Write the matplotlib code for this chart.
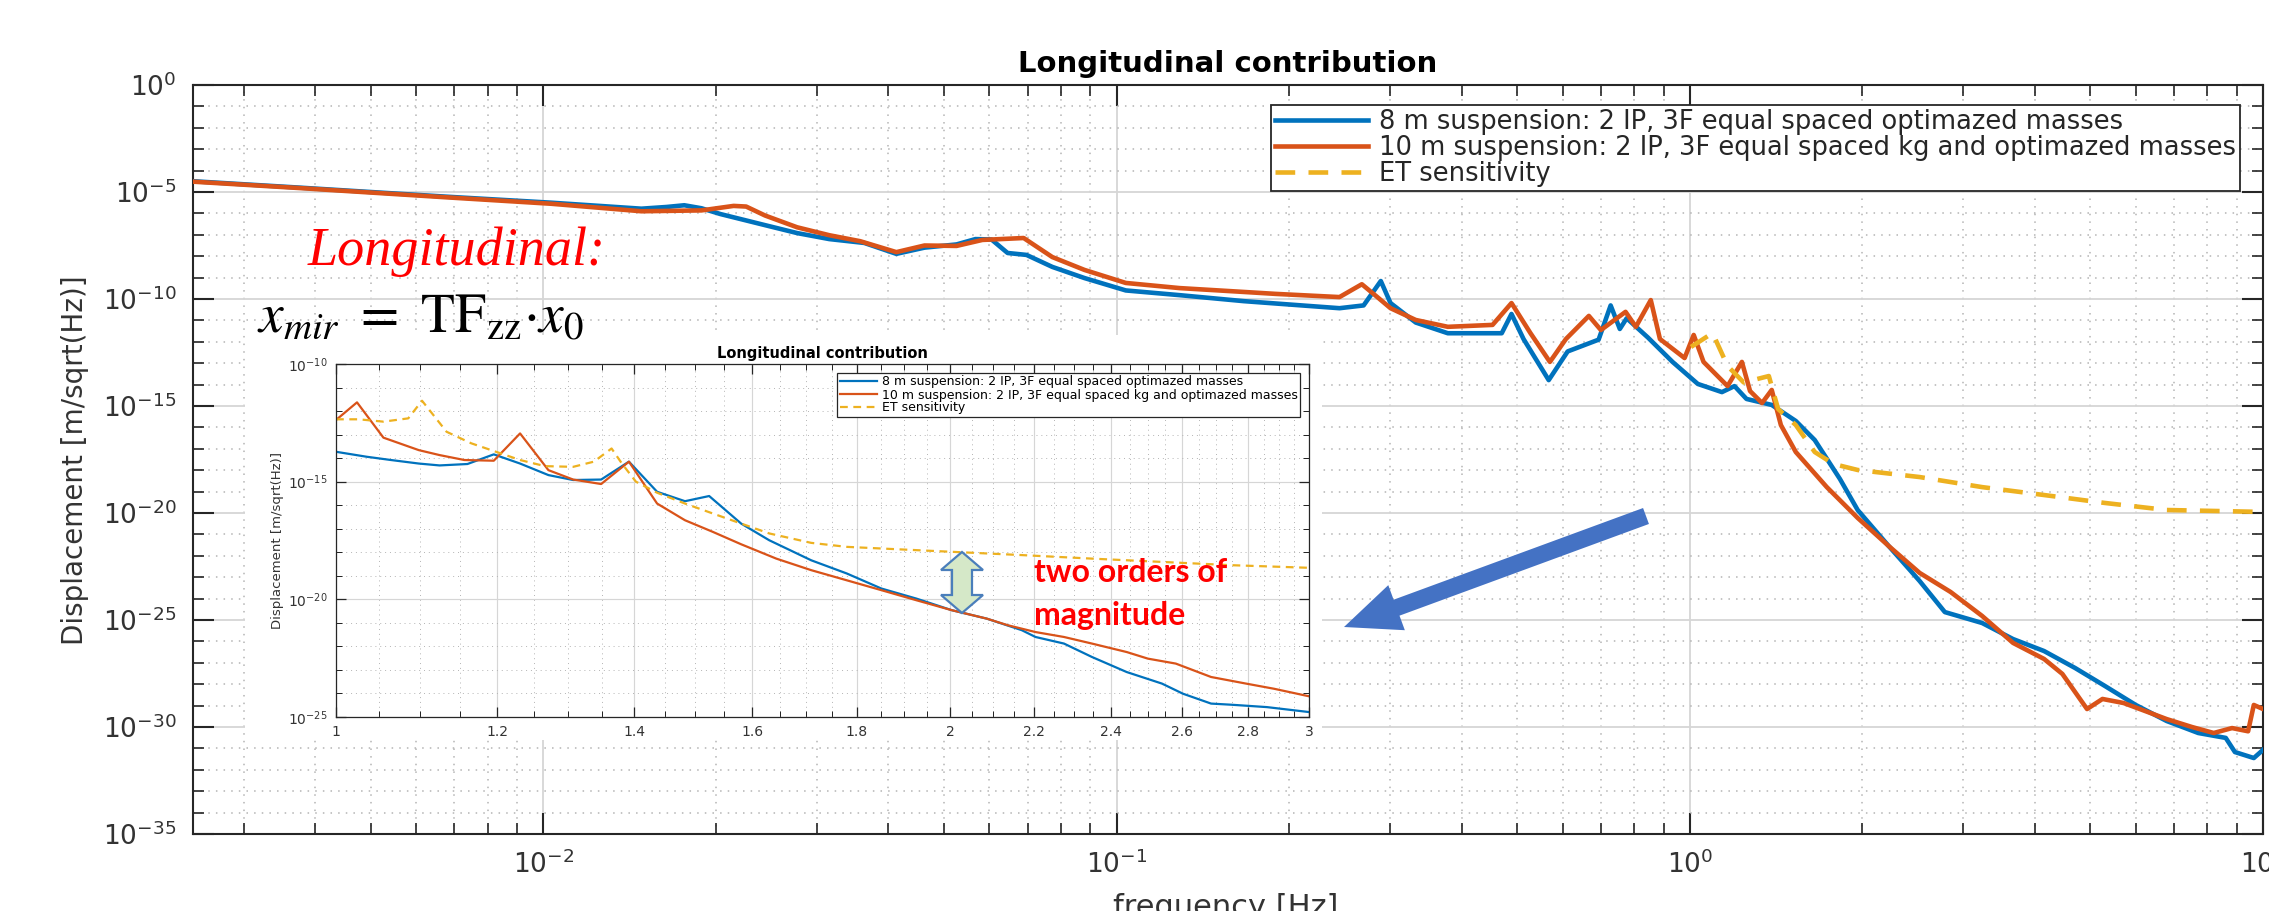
import numpy as np
import matplotlib
matplotlib.use('Agg')
import matplotlib.pyplot as plt
from matplotlib.ticker import FixedLocator, NullFormatter, LogLocator, FixedFormatter
from matplotlib.patches import Polygon, FancyArrow, Rectangle

# ---------------- data (main plot) ----------------
# 8 m suspension (blue): frequency [Hz], log10 displacement
f8 = [0.00246, 0.00378, 0.00679, 0.01033, 0.01483, 0.01641, 0.01762, 0.01888, 0.02037,
      0.02438, 0.02773, 0.03155, 0.03631, 0.04130, 0.04624, 0.05260, 0.05675, 0.06053,
      0.06457, 0.06966, 0.07727, 0.08790, 0.1038, 0.1288, 0.1667, 0.2104, 0.2449, 0.2698,
      0.2891, 0.3006, 0.3327, 0.3784, 0.4699, 0.4887, 0.5129, 0.5675, 0.6124, 0.6934,
      0.7278, 0.7551, 0.7762, 0.8453, 0.9333, 1.033, 1.138, 1.197, 1.256, 1.390, 1.531,
      1.652, 1.828, 1.963, 2.223, 2.518, 2.786, 3.236, 3.664, 4.150, 4.699, 5.297, 5.998,
      6.792, 7.709, 8.610, 8.933, 9.638, 10.0]
d8 = [-4.50, -4.80, -5.22, -5.50, -5.78, -5.70, -5.62, -5.76, -6.03,
      -6.55, -6.92, -7.20, -7.38, -7.89, -7.60, -7.45, -7.20, -7.22,
      -7.85, -7.94, -8.50, -9.02, -9.60, -9.82, -10.10, -10.30, -10.43, -10.30,
      -9.16, -10.19, -11.10, -11.60, -11.60, -10.70, -11.87, -13.79, -12.45, -11.90,
      -10.30, -11.40, -10.90, -11.80, -12.94, -13.97, -14.35, -14.07, -14.67, -14.95, -15.70,
      -16.59, -18.41, -19.86, -21.54, -23.18, -24.63, -25.14, -25.89, -26.45, -27.24, -28.08, -28.97,
      -29.72, -30.28, -30.51, -31.17, -31.45, -31.07]

# 10 m suspension (orange)
f10 = [0.00246, 0.00378, 0.00679, 0.01033, 0.01483, 0.01888, 0.02148, 0.02259, 0.02438,
       0.02773, 0.03155, 0.03573, 0.04130, 0.04624, 0.05260, 0.05834, 0.06887, 0.07727,
       0.08790, 0.1038, 0.1288, 0.1667, 0.1892, 0.2449, 0.2679, 0.2851, 0.3006, 0.3327,
       0.3784, 0.4529, 0.4887, 0.5272, 0.5702, 0.6081, 0.6668, 0.6998, 0.7727, 0.8054,
       0.8551, 0.8872, 0.9795, 1.016, 1.057, 1.164, 1.233, 1.274, 1.337, 1.390, 1.442,
       1.531, 1.734, 1.963, 2.223, 2.518, 2.851, 3.236, 3.664, 4.150, 4.467, 4.932, 5.248,
       5.715, 6.792, 7.516, 8.204, 8.831, 9.419, 9.638, 10.0]
d10 = [-4.52, -4.82, -5.25, -5.55, -5.90, -5.86, -5.65, -5.68, -6.10,
       -6.65, -7.02, -7.30, -7.81, -7.50, -7.52, -7.24, -7.15, -8.04,
       -8.64, -9.25, -9.49, -9.67, -9.76, -9.91, -9.31, -9.91, -10.43, -10.98,
       -11.30, -11.21, -10.19, -11.59, -12.94, -11.87, -10.79, -11.45, -10.60, -11.30,
       -10.05, -11.87, -12.76, -11.68, -12.94, -14.07, -12.94, -14.30, -14.86, -14.25, -15.89,
       -17.15, -18.79, -20.23, -21.54, -22.80, -23.69, -24.81, -26.07, -26.82, -27.52, -29.16, -28.69,
       -28.88, -29.63, -30.00, -30.28, -30.05, -30.20, -28.97, -29.16]

# ET sensitivity (yellow dashed)
fet = [1.005, 1.096, 1.164, 1.242, 1.374, 1.426, 1.531, 1.652, 1.782, 1.963, 2.518,
       3.236, 4.150, 5.297, 6.792, 10.0]
det = [-12.24, -11.59, -13.13, -13.90, -13.60, -15.14, -15.89, -17.15, -17.71, -17.99, -18.32,
       -18.79, -19.16, -19.53, -19.86, -19.95]

# ---------------- data (inset, 1-3 Hz) ----------------
fi8 = [1.000, 1.035, 1.064, 1.098, 1.124, 1.160, 1.195, 1.231, 1.271, 1.307, 1.349, 1.392,
       1.437, 1.483, 1.524, 1.580, 1.631, 1.710, 1.780, 1.851, 1.926, 2.004, 2.085, 2.169,
       2.203, 2.275, 2.348, 2.442, 2.541, 2.602, 2.686, 2.750, 2.861, 3.000]
di8 = [-13.73, -13.94, -14.08, -14.23, -14.31, -14.25, -13.84, -14.23, -14.72, -14.93, -14.91, -14.15,
       -15.43, -15.83, -15.61, -16.78, -17.49, -18.34, -18.90, -19.54, -19.97, -20.46, -20.82, -21.31,
       -21.60, -21.88, -22.45, -23.09, -23.58, -24.01, -24.43, -24.48, -24.58, -24.79]
fi10 = [1.000, 1.024, 1.055, 1.098, 1.124, 1.156, 1.195, 1.231, 1.271, 1.307, 1.349, 1.392,
        1.437, 1.483, 1.530, 1.580, 1.644, 1.710, 1.780, 1.851, 1.926, 2.004, 2.085, 2.135,
        2.203, 2.275, 2.348, 2.442, 2.501, 2.581, 2.686, 2.794, 2.884, 3.000]
di10 = [-12.38, -11.63, -13.13, -13.66, -13.87, -14.08, -14.11, -12.95, -14.51, -14.91, -15.10, -14.15,
        -15.93, -16.64, -17.13, -17.66, -18.27, -18.76, -19.19, -19.61, -20.04, -20.46, -20.82, -21.10,
        -21.39, -21.60, -21.88, -22.24, -22.52, -22.73, -23.30, -23.58, -23.80, -24.12]
fiet = [1.000, 1.026, 1.055, 1.085, 1.102, 1.133, 1.165, 1.198, 1.231, 1.266, 1.307, 1.338,
        1.365, 1.381, 1.403, 1.437, 1.483, 1.530, 1.580, 1.631, 1.710, 1.780, 1.851, 1.926,
        2.004, 2.169, 2.348, 2.541, 2.750, 3.000]
diet = [-12.35, -12.35, -12.45, -12.31, -11.56, -12.88, -13.37, -13.73, -14.08, -14.34, -14.37, -14.15,
        -13.59, -14.23, -15.00, -15.47, -15.93, -16.35, -16.78, -17.20, -17.60, -17.77, -17.84, -17.91,
        -17.98, -18.12, -18.27, -18.41, -18.55, -18.66]

labels = ['8 m suspension: 2 IP, 3F equal spaced optimazed masses',
          '10 m suspension: 2 IP, 3F equal spaced kg and optimazed masses',
          'ET sensitivity']
inset_xticks = [1, 1.2, 1.4, 1.6, 1.8, 2, 2.2, 2.4, 2.6, 2.8, 3]
inset_xticklabels = ['1', '1.2', '1.4', '1.6', '1.8', '2', '2.2', '2.4', '2.6', '2.8', '3']

BLUE, ORANGE, YELLOW = '#0072BD', '#D95319', '#EDB120'
DARK = '#262626'

W, H, DPI = 2269, 911, 100
fig = plt.figure(figsize=(W / DPI, H / DPI), dpi=DPI)
fig.patch.set_facecolor('white')


def fbox(l, t, r, b):
    return [l / W, 1 - b / H, (r - l) / W, (b - t) / H]


def style_axes(a, major_len, minor_len, lw_spine, grid_lw):
    a.set_axisbelow(True)
    a.grid(which='major', color='#d6d6d6', lw=grid_lw * 1.2, ls='-')
    a.grid(which='minor', color='#b4b4b4', lw=grid_lw, ls=(0, (1, 4)))
    a.tick_params(which='both', direction='in', top=True, right=True, colors=DARK)
    a.tick_params(which='major', length=major_len, width=lw_spine)
    a.tick_params(which='minor', length=minor_len, width=lw_spine * 0.8)
    for s in a.spines.values():
        s.set_color(DARK)
        s.set_linewidth(lw_spine)


# ---------------- main axes ----------------
ax = fig.add_axes(fbox(193, 85, 2263, 834))
ax.set_zorder(0)
ax.set_xscale('log')
ax.set_yscale('log')
ax.set_xlim(10 ** -2.611, 10)
ax.set_ylim(1e-35, 1)
ax.yaxis.set_major_locator(FixedLocator([10.0 ** k for k in range(-35, 1, 5)]))
ax.yaxis.set_minor_locator(FixedLocator([10.0 ** k for k in range(-35, 1) if k % 5]))
ax.yaxis.set_minor_formatter(NullFormatter())
ax.xaxis.set_major_locator(LogLocator(base=10, numticks=20))
ax.xaxis.set_minor_locator(LogLocator(base=10, subs=np.arange(2, 10), numticks=100))
ax.xaxis.set_minor_formatter(NullFormatter())
style_axes(ax, 15, 8, 1.5, 1.1)
ax.tick_params(axis='both', which='major', labelsize=19, labelcolor='#333333')
ax.tick_params(axis='x', which='major', pad=12)
ax.tick_params(axis='y', which='major', pad=12)

ax.plot(f8, 10.0 ** np.array(d8), color=BLUE, lw=3.3, label=labels[0], zorder=3)
ax.plot(f10, 10.0 ** np.array(d10), color=ORANGE, lw=3.3, label=labels[1], zorder=4)
ax.plot(fet, 10.0 ** np.array(det), color=YELLOW, lw=3.3, ls=(0, (4.3, 2.9)), label=labels[2], zorder=5)

ax.set_title('Longitudinal contribution', fontweight='bold', fontsize=21, pad=9)
leg = ax.legend(loc='upper right', bbox_to_anchor=(2240 / W, 1 - 105 / H),
                bbox_transform=fig.transFigure, fontsize=18.5, fancybox=False,
                edgecolor=DARK, framealpha=1, borderaxespad=0, handlelength=3.6,
                handletextpad=0.45, labelspacing=0.0, borderpad=0.15)
leg.get_frame().set_linewidth(1.3)
for t in leg.get_texts():
    t.set_color(DARK)

fig.text(1226 / W, 1 - 893 / H, 'frequency [Hz]', ha='center', va='top', fontsize=22, color='#333333')
fig.text(75 / W, 1 - 460 / H, 'Displacement [m/sqrt(Hz)]', rotation=90, ha='center', va='center',
         fontsize=20, color='#333333')

# ---------------- overlay for white inset background ----------------
bg = fig.add_axes([0, 0, 1, 1])
bg.set_zorder(1)
bg.set_xlim(0, W)
bg.set_ylim(H, 0)
bg.axis('off')
bg.patch.set_alpha(0)
bg.add_patch(Rectangle((245, 335), 1322 - 245, 740 - 335, facecolor='white', edgecolor='none'))

# ---------------- inset axes ----------------
ins = fig.add_axes(fbox(336, 364, 1309, 717))
ins.set_zorder(2)
ins.set_xscale('log')
ins.set_yscale('log')
ins.set_xlim(1, 3)
ins.set_ylim(1e-25, 1e-10)
ins.xaxis.set_major_locator(FixedLocator(inset_xticks))
ins.xaxis.set_major_formatter(FixedFormatter(inset_xticklabels))
ins.xaxis.set_minor_locator(FixedLocator([round(1 + 0.05 * i, 2) for i in range(41) if i % 4]))
ins.xaxis.set_minor_formatter(NullFormatter())
ins.yaxis.set_major_locator(FixedLocator([1e-25, 1e-20, 1e-15, 1e-10]))
ins.yaxis.set_minor_locator(FixedLocator([10.0 ** k for k in range(-25, -9) if k % 5]))
ins.yaxis.set_minor_formatter(NullFormatter())
style_axes(ins, 7, 4, 0.9, 0.7)
ins.tick_params(axis='both', which='major', labelsize=10, labelcolor='#333333', pad=6)
ins.plot(fi8, 10.0 ** np.array(di8), color=BLUE, lw=1.6, label=labels[0])
ins.plot(fi10, 10.0 ** np.array(di10), color=ORANGE, lw=1.6, label=labels[1])
ins.plot(fiet, 10.0 ** np.array(diet), color=YELLOW, lw=1.6, ls=(0, (3.5, 2.5)), label=labels[2])
ins.set_title('Longitudinal contribution', fontweight='bold', fontsize=10.5, pad=4)
ins.set_ylabel('Displacement [m/sqrt(Hz)]', fontsize=9.5, color='#333333', labelpad=3)
ileg = ins.legend(loc='upper right', bbox_to_anchor=(1300 / W, 1 - 373 / H),
                  bbox_transform=fig.transFigure, fontsize=9, fancybox=False,
                  edgecolor=DARK, framealpha=1, borderaxespad=0, handlelength=3.0,
                  handletextpad=0.35, labelspacing=0.0, borderpad=0.2)
ileg.get_frame().set_linewidth(0.9)

# ---------------- annotations overlay ----------------
top = fig.add_axes([0, 0, 1, 1])
top.set_zorder(3)
top.set_xlim(0, W)
top.set_ylim(H, 0)
top.axis('off')
top.patch.set_alpha(0)

top.add_patch(FancyArrow(1646, 516, 1344 - 1646, 627 - 516, width=17, head_width=48,
                         head_length=56, length_includes_head=True,
                         facecolor='#4472C4', edgecolor='none'))

cx, y0, y1 = 962, 552, 613
dbl = [(cx, y0), (cx + 21, y0 + 18), (cx + 10, y0 + 18), (cx + 10, y1 - 18), (cx + 21, y1 - 18),
       (cx, y1), (cx - 21, y1 - 18), (cx - 10, y1 - 18), (cx - 10, y0 + 18), (cx - 21, y0 + 18)]
top.add_patch(Polygon(dbl, closed=True, facecolor='#d5e8c8', edgecolor='#4a7ebb', lw=1.6))

top.text(1034, 573, 'two orders of', color='#ff0000', fontweight='bold', fontsize=23,
         family='Lato', ha='left', va='center')
top.text(1034, 615, 'magnitude', color='#ff0000', fontweight='bold', fontsize=23,
         family='Lato', ha='left', va='center')

top.text(457, 252, 'Longitudinal:', color='#ff0000', fontsize=39, style='italic',
         family='Liberation Serif', ha='center', va='center')
top.text(257, 317, r'$x_{mir}\ =\ \mathrm{TF}_{\mathrm{zz}}{\cdot}x_0$', color='black', fontsize=40,
         ha='left', va='center', math_fontfamily='stix')

fig.savefig('out.png', dpi=DPI)
